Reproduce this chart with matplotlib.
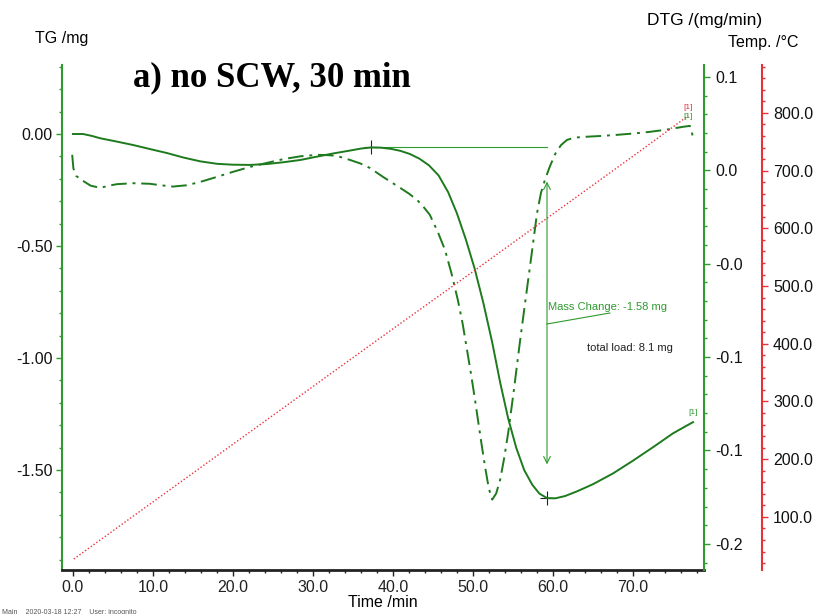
import numpy as np
import matplotlib
matplotlib.use("Agg")
import matplotlib.pyplot as plt
from matplotlib.ticker import MultipleLocator, FixedLocator, FormatStrFormatter

plt.rcParams["font.family"] = ["Liberation Sans", "DejaVu Sans"]

# TG curve (time in min, mass change in mg)
tg_time = [0.0, 1.25, 2.3, 3.4, 5.5, 7.5, 9.6, 11.75, 13.8, 15.9, 18.0, 20.0,
           22.1, 24.25, 26.3, 28.4, 30.5, 32.5, 34.6, 36.0, 37.25, 38.5, 39.7,
           40.9, 42.1, 43.3, 44.5, 45.7, 46.9, 48.0, 49.1, 50.2, 51.3, 52.4,
           53.4, 54.4, 55.4, 56.4, 57.4, 58.3, 59.25, 60.3, 61.5, 63.0, 65.0,
           67.5, 70.0, 72.5, 75.0, 77.5]
tg_mass = [0.0, 0.0, -0.008, -0.019, -0.034, -0.049, -0.067, -0.085, -0.105,
           -0.122, -0.133, -0.137, -0.138, -0.134, -0.126, -0.116, -0.101,
           -0.087, -0.074, -0.065, -0.06, -0.061, -0.066, -0.075, -0.089,
           -0.11, -0.14, -0.185, -0.26, -0.355, -0.47, -0.6, -0.755, -0.93,
           -1.11, -1.27, -1.4, -1.5, -1.565, -1.605, -1.625, -1.626, -1.616,
           -1.595, -1.563, -1.515, -1.458, -1.398, -1.336, -1.286]

# DTG curve (mg/min)
dtg_time = [-0.1, 0.05, 0.4, 1.2, 2.2, 3.4, 4.5, 5.5, 7.5, 9.6, 11.0, 12.5,
            14.2, 15.9, 18.0, 20.0, 22.1, 24.25, 26.3, 28.4, 30.5, 32.0,
            33.0, 34.6, 35.9, 37.1, 38.75, 40.9, 42.0, 43.0, 43.8, 44.6,
            45.6, 46.5, 47.3, 48.1, 48.7, 49.25, 49.75, 50.25, 50.7, 51.1,
            51.5, 51.9, 52.2, 52.4, 52.9, 53.4, 53.9, 54.4, 55.1, 55.9, 56.7,
            57.4, 58.0, 58.5, 59.0, 59.6, 60.3, 61.0, 61.75, 62.7, 63.75,
            66.0, 68.0, 70.0, 72.1, 74.2, 76.25, 77.1, 77.3, 77.5]
dtg_rate = [0.0333, 0.026, 0.022, 0.0195, 0.0168, 0.0156, 0.0168, 0.0176,
            0.0181, 0.0178, 0.017, 0.0163, 0.017, 0.0188, 0.0215, 0.0242,
            0.0268, 0.029, 0.031, 0.0325, 0.0333, 0.0331, 0.0327, 0.0306,
            0.0287, 0.0263, 0.0215, 0.0156, 0.0125, 0.0092, 0.0055, 0.0012,
            -0.008, -0.0176, -0.03, -0.0443, -0.057, -0.0711, -0.084,
            -0.0978, -0.111, -0.1225, -0.1335, -0.1435, -0.149, -0.1513,
            -0.148, -0.1406, -0.129, -0.1155, -0.093, -0.0657, -0.04, -0.0176,
            0.002, 0.013, 0.02, 0.027, 0.034, 0.0385, 0.0413, 0.0425, 0.0429,
            0.0434, 0.044, 0.0447, 0.0456, 0.0468, 0.0483, 0.0488, 0.046,
            0.0429]

# temperature program
temp_time = [0.1, 10.0, 20.0, 30.0, 40.0, 50.0, 60.0, 70.0, 76.9]
temp_c = [27, 126, 226, 326, 426, 525, 625, 725, 795]

x_ticks = [0, 10, 20, 30, 40, 50, 60, 70]
tg_ticks = [0.0, -0.5, -1.0, -1.5]
dtg_ticks = [0.075, 0.025, -0.025, -0.075, -0.125, -0.175]
dtg_tick_labels = ["0.1", "0.0", "-0.0", "-0.1", "-0.1", "-0.2"]
temp_ticks = [100, 200, 300, 400, 500, 600, 700, 800]

mass_step_start = (37.25, -0.06)
mass_step_end = (59.25, -1.625)

GREEN_DARK = "#1d7a1d"
GREEN = "#2f9a2f"
RED = "#e8323a"
W, H = 814, 614

fig = plt.figure(figsize=(W / 100, H / 100), dpi=100)
ax = fig.add_axes([62 / W, 44 / H, 642 / W, 505 / H])
ax2 = ax.twinx()
ax3 = ax.twinx()

# curves
ax.plot(tg_time, tg_mass, color=GREEN_DARK, lw=1.4, zorder=3)
ax2.plot(dtg_time, dtg_rate, color=GREEN_DARK, lw=1.4,
         dashes=(8, 3, 1.5, 3), zorder=3)
ax3.plot(temp_time, temp_c, color=RED, lw=1.0, linestyle=(0, (1, 1.5)))

# mass change construction
ax.plot([mass_step_start[0], mass_step_end[0]],
        [mass_step_start[1], mass_step_start[1]], color=GREEN, lw=0.8)
ax.plot(*mass_step_start, marker="+", color="#222222", ms=10, mew=0.8)
ax.plot(*mass_step_end, marker="+", color="#222222", ms=10, mew=0.8)
ax.annotate("", xy=(59.25, -1.487), xytext=(59.25, -0.2),
            arrowprops=dict(arrowstyle="<->", color=GREEN, lw=0.8,
                            mutation_scale=12))
ax.plot([59.25, 67.1], [-0.848, -0.799], color=GREEN, lw=0.8)
ax.text(59.4, -0.772, "Mass Change: -1.58 mg", color=GREEN, fontsize=8,
        va="center", ha="left")
ax.text(64.25, -0.955, "total load: 8.1 mg", color="#222222", fontsize=8,
        va="center", ha="left")
ax.text(77.5, -1.26, "[1]", color=GREEN, fontsize=6, ha="center", va="bottom")
ax2.text(76.9, 0.052, "[1]", color=GREEN, fontsize=6, ha="center", va="bottom")
ax3.text(76.9, 803, "[1]", color=RED, fontsize=6, ha="center", va="bottom")

# limits
ax.set_xlim(-1.375, 78.875)
ax.set_ylim(-1.946, 0.308)
ax2.set_ylim(-0.189, 0.0814)
ax3.set_ylim(8, 883)

# spines
for a in (ax, ax2, ax3):
    a.spines["top"].set_visible(False)
ax.spines["left"].set_color(GREEN)
ax.spines["left"].set_linewidth(1.5)
ax.spines["bottom"].set_color("#222222")
ax.spines["bottom"].set_linewidth(2.0)
ax.spines["right"].set_visible(False)
ax2.spines["right"].set_color(GREEN)
ax2.spines["right"].set_linewidth(1.5)
ax2.spines["left"].set_visible(False)
ax2.spines["bottom"].set_visible(False)
ax3.spines["right"].set_position(("axes", 700 / 642))
ax3.spines["right"].set_color(RED)
ax3.spines["right"].set_linewidth(1.5)
ax3.spines["left"].set_visible(False)
ax3.spines["bottom"].set_visible(False)

# ticks
fs = 11.5
ax.set_xticks(x_ticks)
ax.xaxis.set_major_formatter(FormatStrFormatter("%.1f"))
ax.xaxis.set_minor_locator(MultipleLocator(2))
ax.tick_params(axis="x", which="both", direction="out", colors="#222222",
               labelsize=fs, pad=3)
ax.tick_params(axis="x", which="major", length=4, width=1)
ax.tick_params(axis="x", which="minor", length=2.5, width=1)

ax.set_yticks(tg_ticks)
ax.yaxis.set_major_formatter(FormatStrFormatter("%.2f"))
ax.yaxis.set_minor_locator(MultipleLocator(0.1))
ax.tick_params(axis="y", which="both", direction="out", color=GREEN,
               labelcolor="#111111", labelsize=fs, pad=3)
ax.tick_params(axis="y", which="major", length=4, width=1)
ax.tick_params(axis="y", which="minor", length=2.5, width=1)

ax2.set_yticks(dtg_ticks)
ax2.set_yticklabels(dtg_tick_labels)
ax2.yaxis.set_minor_locator(FixedLocator(np.arange(-0.185, 0.0805, 0.01)))
ax2.tick_params(axis="y", which="both", direction="out", color=GREEN,
                labelcolor="#111111", labelsize=fs, pad=4)
ax2.tick_params(axis="y", which="major", length=4, width=1)
ax2.tick_params(axis="y", which="minor", length=2.5, width=1)

ax3.set_yticks(temp_ticks)
ax3.yaxis.set_major_formatter(FormatStrFormatter("%.1f"))
ax3.yaxis.set_minor_locator(MultipleLocator(20))
ax3.tick_params(axis="y", which="both", direction="out", color=RED,
                labelcolor="#111111", labelsize=fs, pad=4)
ax3.tick_params(axis="y", which="major", length=4, width=1)
ax3.tick_params(axis="y", which="minor", length=2.5, width=1)

ax.set_xlabel("Time /min", fontsize=fs, labelpad=0)

# axis titles and caption
fig.text(35 / W, 1 - 38 / H, "TG /mg", fontsize=fs, ha="left", va="center")
fig.text(647 / W, 1 - 20 / H, "DTG /(mg/min)", fontsize=12.5, ha="left",
         va="center")
fig.text(798 / W, 1 - 42 / H, "Temp. /°C", fontsize=fs, ha="right",
         va="center")
fig.text(133 / W, 1 - 78 / H, "a) no SCW, 30 min", fontsize=25,
         fontweight="bold", family="Liberation Serif", ha="left", va="center")
fig.text(2 / W, 2 / H, "Main    2020-03-18 12:27    User: incognito",
         fontsize=5, color="#555555", ha="left", va="center")

fig.savefig("out.png", dpi=100)
